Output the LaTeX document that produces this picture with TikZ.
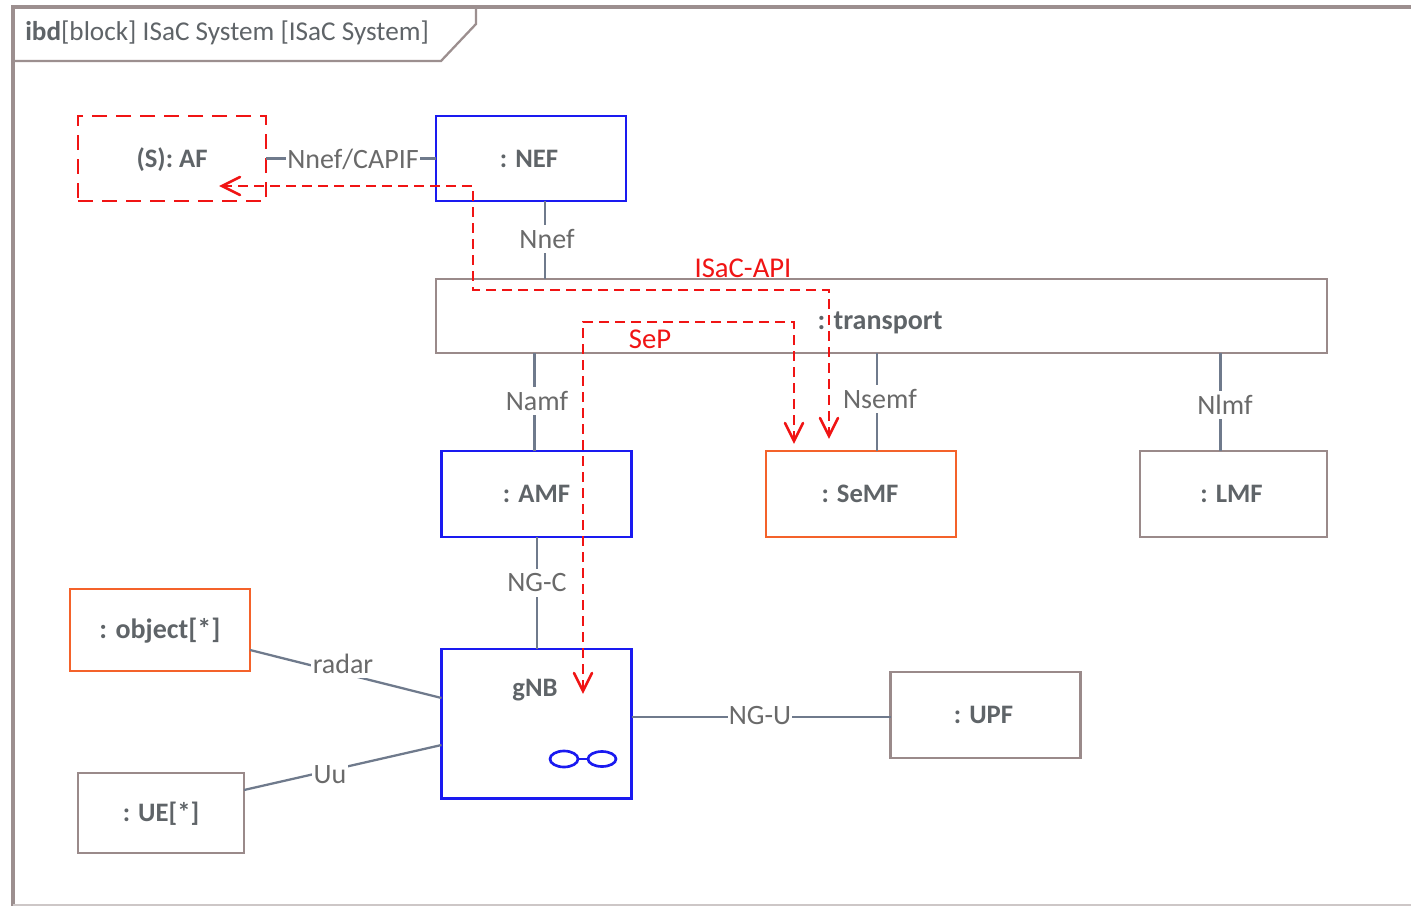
\documentclass[tikz,border=0pt]{standalone}
\usepackage{fontspec}
\setmainfont{Carlito}
\usetikzlibrary{arrows.meta}
\definecolor{framec}{HTML}{9C8F8F}
\definecolor{boxc}{HTML}{9A8A8A}
\definecolor{linec}{HTML}{6F7A8C}
\definecolor{txtc}{HTML}{5F6468}
\definecolor{lblc}{HTML}{6A6A6A}
\definecolor{blueb}{HTML}{1A1AF0}
\definecolor{orangeb}{HTML}{F4622A}
\definecolor{redd}{HTML}{F01414}
\newcommand{\capmid}[1]{\raisebox{0pt}[.64em][0pt]{#1}}
\tikzset{
  x=0.75pt,y=-0.75pt,
  block/.style={draw,rectangle,line width=1.8pt,inner sep=0pt,outer sep=0pt,fill=white,
    text=txtc,font=\fontsize{20}{22}\selectfont\bfseries},
  plainb/.style={block,draw=boxc},
  blueblk/.style={block,draw=blueb,line width=2pt},
  orangeblk/.style={block,draw=orangeb,line width=2pt},
  redblk/.style={block,draw=redd,line width=2pt,dash pattern=on 11pt off 7pt},
  conn/.style={draw=linec,line width=1.7pt},
  lbl/.style={fill=white,inner xsep=1pt,inner ysep=3.5pt,text=lblc,font=\fontsize{21}{22}\selectfont},
  redlbl/.style={inner sep=0pt,text=redd,font=\fontsize{21.5}{22}\selectfont},
  redpathb/.style={draw=redd,line width=1.9pt,dash pattern=on 7.5pt off 4.5pt},
  tip/.style={draw=redd,line width=1.9pt,line cap=round,line join=miter},
  framel/.style={draw=framec,line width=2pt},
  glass/.style={draw=blueb,line width=2pt},
}
\begin{document}
\begin{tikzpicture}
\useasboundingbox (0,0) rectangle (1411,906);
\fill[white] (0,0) rectangle (1411,906);
% frame
\draw[framel,line width=2.6pt] (13,906) -- (13,7) -- (1411,7);
\draw[draw=framec!50,line width=1pt] (13,905) -- (1411,905);
\coordinate (tabanchor) at (13,61);
\draw[framel,line width=1.7pt] (tabanchor) -- (441,61) -- (476,24) -- (476,7);
\node[anchor=west,inner sep=0pt,text=txtc,font=\fontsize{20.4}{22}\selectfont] (title) at (25,33) {\textbf{ibd}[block] ISaC System [ISaC System]};
% blocks
\node[redblk,minimum width=141pt,minimum height=63.75pt] (af) at (172,158.5) {\capmid{(S): AF}};
\node[blueblk,minimum width=142.5pt,minimum height=63.75pt] (nef) at (531,158.5) {\hspace{-3pt}\capmid{: NEF}};
\node[plainb,minimum width=668pt,minimum height=55.5pt] (transport) at (881.5,316) {};
\node[text=txtc,inner sep=0pt,font=\fontsize{21}{22}\selectfont\bfseries] (transporttxt) at (880,323) {: transport};
\node[blueblk,minimum width=142.5pt,minimum height=64.5pt] (amf) at (536.5,494) {\capmid{: AMF}};
\node[orangeblk,minimum width=142.5pt,minimum height=64.5pt] (semf) at (861,494) {\hspace{-1.5pt}\capmid{: SeMF}};
\node[plainb,minimum width=140.5pt,minimum height=64.5pt] (lmf) at (1233.5,494) {\hspace{-3pt}\capmid{: LMF}};
\node[orangeblk,minimum width=135pt,minimum height=61.5pt,font=\fontsize{21}{22}\selectfont\bfseries] (object) at (160,630) {\capmid{: object[*]}};
\node[blueblk,minimum width=142.5pt,minimum height=112pt] (gnb) at (536.5,723.5) {};
\node[text=txtc,inner sep=0pt,font=\fontsize{20}{22}\selectfont\bfseries] (gnbtxt) at (535,690) {gNB};
\node[plainb,minimum width=142.5pt,minimum height=64.5pt] (upf) at (985.5,715) {\hspace{-3pt}\capmid{: UPF}};
\node[plainb,minimum width=124.5pt,minimum height=60pt] (ue) at (161,813) {\capmid{: UE[*]}};
% connectors
\coordinate (xa) at (545,240);
\coordinate (xb) at (534.5,400);
\coordinate (xc) at (877,400);
\coordinate (xd) at (1220.5,400);
\coordinate (xe) at (537,580);
\coordinate (xf) at (760,717);
\draw[conn] (af.east) -- (nef.west);
\draw[conn] (xa |- nef.south) -- (xa |- transport.north);
\draw[conn] (xb |- transport.south) -- (xb |- amf.north);
\draw[conn] (xc |- transport.south) -- (xc |- semf.north);
\draw[conn] (xd |- transport.south) -- (xd |- lmf.north);
\draw[conn] (xe |- amf.south) -- (xe |- gnb.north);
\draw[conn] (object.east |- 250,650) -- (gnb.west |- 442,698);
\draw[conn] (ue.east |- 244,790) -- (gnb.west |- 442,745);
\draw[conn] (gnb.east |- xf) -- (upf.west |- xf);
% connector labels
\node[lbl] (l1) at (353,159) {Nnef/CAPIF};
\node[lbl] (l2) at (547,239) {Nnef};
\node[lbl] (l3) at (537,401) {Namf};
\node[lbl] (l4) at (880,399) {Nsemf};
\node[lbl] (l5) at (1225,405) {Nlmf};
\node[lbl] (l6) at (537,583) {NG-C};
\node[lbl] (l7) at (343,664) {radar};
\node[lbl] (l8) at (330,775) {Uu};
\node[lbl] (l9) at (760,716) {NG-U};
% glasses
\draw[glass] (564,759) ellipse (14 and 8);
\draw[glass] (602,759) ellipse (14 and 7.5);
\draw[glass] (578,759) -- (588,759);
% red paths
\coordinate (r1) at (222,186);
\coordinate (r2) at (473,186);
\coordinate (r3) at (473,290);
\coordinate (r4) at (829,290);
\coordinate (r5) at (829,436);
\coordinate (s1) at (794,441);
\coordinate (s2) at (794,322);
\coordinate (s3) at (583,322);
\coordinate (s4) at (583,691);
\draw[redpathb] (r1) -- (r2) -- (r3) -- (r4) -- (r5);
\draw[redpathb] (s1) -- (s2) -- (s3) -- (s4);
\draw[tip] (240,177) -- (r1) -- (240,195);
\draw[tip] (820,418) -- (r5) -- (838,418);
\draw[tip] (785,423) -- (s1) -- (803,423);
\draw[tip] (574,673) -- (s4) -- (592,673);
\node[redlbl] (isac) at (743,268) {ISaC-API};
\node[redlbl] (sep) at (650,339) {SeP};
\end{tikzpicture}
\end{document}
